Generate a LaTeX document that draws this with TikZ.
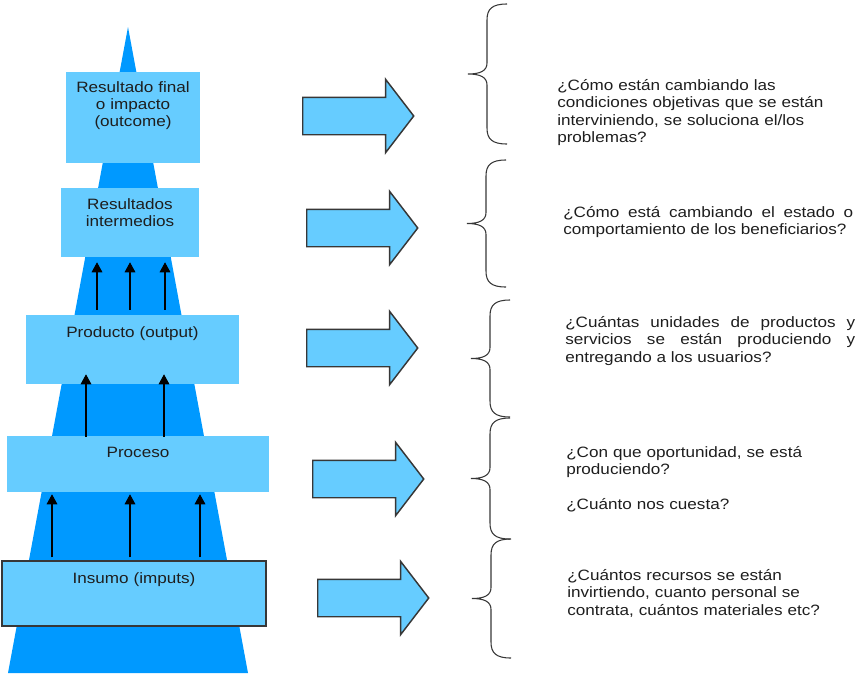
\documentclass[tikz,border=0pt]{standalone}
\usepackage{fontspec}
\setmainfont{Liberation Sans}[FakeStretch=1.14]
\usetikzlibrary{shapes.arrows,arrows.meta,calc}
\definecolor{pyrblue}{RGB}{0,153,255}
\definecolor{boxblue}{RGB}{102,204,255}
\definecolor{inkgray}{RGB}{30,30,30}
\definecolor{edgegray}{RGB}{55,55,55}
\tikzset{
  levelbox/.style={fill=boxblue, draw=none, inner sep=0pt},
  leveltext/.style={font=\fontsize{11.25pt}{12.6pt}\selectfont, text=inkgray, text width=150pt, align=center, anchor=base, inner sep=0pt},
  uparrow/.style={-{Triangle[width=8pt,length=7.5pt]}, line width=0.8pt, draw=black},
  bigarrow/.style={single arrow, draw=edgegray, line width=1.1pt, fill=boxblue, inner xsep=0pt, inner ysep=13.5pt,
    single arrow head extend=13.5pt, single arrow tip angle=105, minimum height=83.25pt, anchor=tail},
  bracket/.style={draw=edgegray, line width=0.8pt},
  question/.style={font=\fontsize{11.25pt}{13.2pt}\selectfont, text=inkgray, inner sep=0pt, anchor=base west}
}
\begin{document}
\begin{tikzpicture}[x=0.75pt,y=-0.75pt]
                \useasboundingbox (0,0) rectangle (855,675);
                % pyramid
                \fill [pyrblue] (128,27) -- (248,673) -- (8,673) -- cycle;
                % levels
                \node [levelbox, minimum width=100.5pt, minimum height=68.25pt] (fin) at (133,117.5) {};
                \node [levelbox, minimum width=103.5pt, minimum height=51.75pt] (inter) at (130,222.5) {};
                \node [levelbox, minimum width=159.75pt, minimum height=51.75pt] (prod) at (132.5,349.5) {};
                \node [levelbox, minimum width=196.5pt, minimum height=42pt] (proc) at (138,464) {};
                \node [levelbox, draw=edgegray, line width=1.1pt, minimum width=198pt, minimum height=48.75pt] (ins) at (134,593.5) {};
                \node [leveltext] (finT) at ([yshift=-15.75pt]fin.north) {Resultado final\\o impacto\\(outcome)};
                \node [leveltext] (interT) at ([yshift=-16.5pt]inter.north) {Resultados\\intermedios};
                \node [leveltext] (prodT) at ([yshift=-17.25pt]prod.north) {Producto (output)};
                \node [leveltext] (procT) at ([yshift=-16.5pt]proc.north) {Proceso};
                \node [leveltext] (insT) at ([yshift=-17.25pt]ins.north) {Insumo (imputs)};
                % arrows between levels
                \foreach \x in {97,130,165}
                    \draw [uparrow] ($(\x,0 |- prod.north)+(0,-5)$) -- ($(\x,0 |- inter.south)+(0,5)$);
                \foreach \x in {86,164}
                    \draw [uparrow] ($(\x,0 |- proc.north)+(0,1)$) -- ($(\x,0 |- prod.south)+(0,-10)$);
                \foreach \x in {52,130,200}
                    \draw [uparrow] ($(\x,0 |- ins.north)+(0,-3)$) -- ($(\x,0 |- proc.south)+(0,2)$);
                % block arrows
                \node [bigarrow] (toFin) at (302,116) {};
                \node [bigarrow] (toInter) at (306,228) {};
                \node [bigarrow] (toProd) at (306,348) {};
                \node [bigarrow] (toProc) at (312,479) {};
                \node [bigarrow] (toIns) at (317,598) {};
                % braces
                \foreach \ya/\yb/\xs [evaluate=\ya as \ym using (\ya+\yb)/2] in {4/144/487,160/287/486,300/417/490,418/539/490,539/658/491}
                    \draw [bracket] (\xs+20,\ya) .. controls (\xs+5,\ya) and (\xs,\ya+5) .. (\xs,\ya+16)
                        -- (\xs,\ym-11) .. controls (\xs,\ym-3) and (\xs-7,\ym) .. (\xs-19,\ym)
                        .. controls (\xs-7,\ym) and (\xs,\ym+3) .. (\xs,\ym+11)
                        -- (\xs,\yb-16) .. controls (\xs,\yb-5) and (\xs+5,\yb) .. (\xs+20,\yb);
                % questions
                \node [question, text width=225pt, align=left] (qFin) at (557,90) {¿Cómo están cambiando las\\condiciones objetivas que se están\\interviniendo, se soluciona el/los\\problemas?};
                \node [question, text width=217.5pt, align=justify] (qInter) at (563,217) {¿Cómo está cambiando el estado o\linebreak comportamiento de los beneficiarios?};
                \node [question, text width=217.5pt, align=justify] (qProd) at (565,327) {¿Cuántas unidades de productos y\linebreak servicios se están produciendo y\linebreak entregando a los usuarios?};
                \node [question, text width=225pt, align=left] (qProc) at (566,457) {¿Con que oportunidad, se está\\produciendo?\\[13.2pt]¿Cuánto nos cuesta?};
                \node [question, text width=225pt, align=left] (qIns) at (567,580) {¿Cuántos recursos se están\\invirtiendo, cuanto personal se\\contrata, cuántos materiales etc?};
\end{tikzpicture}
\end{document}
